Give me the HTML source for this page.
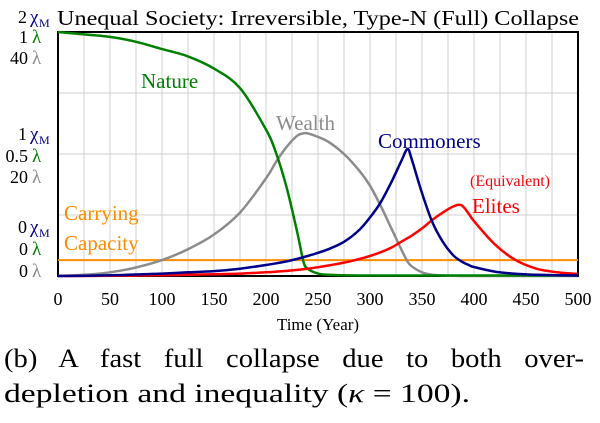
<!DOCTYPE html>
<html><head><meta charset="utf-8"><style>
body{margin:0;background:#fff;width:600px;height:423px;overflow:hidden;font-family:"Liberation Serif",serif}
</style></head><body>
<svg id="chart" width="600" height="423" style="position:absolute;left:0;top:0" font-family="Liberation Serif, serif"></svg>
<script>
const years=[0,25,50,75,100,125,150,175,200,210,220,230,236,240,250,260,275,290,300,310,320,330,336,340,350,360,370,380,388,395,400,420,440,460,480,500];
const nature=[1,0.99,0.98,0.96,0.93,0.9,0.85,0.77,0.6,0.5,0.36,0.18,0.06,0.03,0.01,0.005,0.003,0.002,0.002,0.002,0.002,0.002,0.002,0.002,0.002,0.002,0.002,0.002,0.002,0.002,0.002,0.002,0.002,0.002,0.002,0.002];
const wealth=[0,0.005,0.015,0.035,0.065,0.11,0.17,0.26,0.4,0.47,0.53,0.575,0.585,0.585,0.57,0.55,0.5,0.43,0.37,0.29,0.2,0.11,0.06,0.04,0.015,0.005,0.002,0.001,0,0,0,0,0,0,0,0];
const commoners=[0,0.001,0.003,0.006,0.01,0.015,0.02,0.03,0.045,0.052,0.06,0.07,0.077,0.082,0.095,0.11,0.14,0.19,0.24,0.3,0.38,0.47,0.52,0.48,0.34,0.22,0.14,0.085,0.06,0.045,0.037,0.018,0.009,0.005,0.003,0.002];
const elites=[0,0,0.001,0.002,0.003,0.005,0.007,0.01,0.015,0.018,0.021,0.025,0.028,0.03,0.036,0.043,0.055,0.07,0.082,0.097,0.115,0.14,0.155,0.165,0.195,0.23,0.26,0.285,0.29,0.255,0.225,0.13,0.065,0.03,0.015,0.008];
const capacity=0.065;
const xTicks=[0,50,100,150,200,250,300,350,400,450,500];
const L=58,R=578,T=32,B=276;
const X=t=>L+(t/500)*(R-L), Y=v=>B-v*(B-T);
const svg=document.getElementById('chart');const NS='http://www.w3.org/2000/svg';
function mk(tag,attrs,txt,name){const e=document.createElementNS(NS,tag);for(const k in attrs)e.setAttribute(k,attrs[k]);if(txt!=null)e.textContent=txt;


svg.appendChild(e);return e;}
for(let t=25;t<500;t+=25)mk('line',{x1:X(t),x2:X(t),y1:T,y2:B,stroke:'#d0d0d0','stroke-width':1},null,'v-gridline');
for(let i=1;i<4;i++)mk('line',{x1:L,x2:R,y1:Y(i/4),y2:Y(i/4),stroke:'#d0d0d0','stroke-width':1},null,'h-gridline');
mk('rect',{x:L,y:T,width:R-L,height:B-T,fill:'none',stroke:'#000','stroke-width':2},null,'plot-frame');
function smooth(arr){const p=arr.map((v,i)=>[X(years[i]),Y(v)]);let d='M'+p[0][0].toFixed(1)+','+p[0][1].toFixed(1);
for(let i=0;i<p.length-1;i++){const a=p[Math.max(0,i-1)],b=p[i],c=p[i+1],e=p[Math.min(p.length-1,i+2)];const k=1/6;
const c1=[b[0]+(c[0]-a[0])*k,b[1]+(c[1]-a[1])*k],c2=[c[0]-(e[0]-b[0])*k,c[1]-(e[1]-b[1])*k];
d+='C'+c1.map(n=>n.toFixed(1))+' '+c2.map(n=>n.toFixed(1))+' '+c[0].toFixed(1)+','+c[1].toFixed(1);}return d;}
function series(arr,col,name){mk('path',{d:smooth(arr),fill:'none',stroke:col,'stroke-width':2.5,'stroke-linejoin':'round'},null,name);}
mk('line',{x1:L,x2:R,y1:Y(capacity),y2:Y(capacity),stroke:'#ff8c00','stroke-width':2},null,'carrying-capacity-line');
series(wealth,'#8c8c8c','wealth-line');
series(nature,'#008000','nature-line');
series(elites,'#ff0000','elites-line');
series(commoners,'#00008b','commoners-line');
xTicks.forEach(t=>mk('text',{x:X(t),y:B+29,'font-size':18,'text-anchor':'middle'},t,'x-tick-label'));
mk('text',{x:X(250),y:B+54,'font-size':17,'text-anchor':'middle'},'Time (Year)','x-axis-title');
mk('text',{x:57,y:25,'font-size':21.5,textLength:522,lengthAdjust:'spacingAndGlyphs'},'Unequal Society: Irreversible, Type-N (Full) Collapse','chart-title');
const yl=[[23,'2','χ','#00008b',1],[43,'1','λ','#008000',0],[64,'40','λ','#8c8c8c',0],[140,'1','χ','#00008b',1],[162,'0.5','λ','#008000',0],[183,'20','λ','#8c8c8c',0],[233,'0','χ','#00008b',1],[255,'0','λ','#008000',0],[277,'0','λ','#8c8c8c',0]];
yl.forEach(r=>{mk('text',{x:r[4]?27:28,y:r[0],'font-size':18,'text-anchor':'end'},r[1],'y-tick-label');
mk('text',{x:r[4]?30:32,y:r[0],'font-size':19,fill:r[3]},r[2],'y-unit-symbol');
if(r[4])mk('text',{x:39,y:r[0]+4,'font-size':12,fill:r[3]},'M','y-unit-subscript');});
mk('text',{x:141,y:88,'font-size':21,fill:'#008000'},'Nature','nature-label');
mk('text',{x:276,y:130,'font-size':21,fill:'#8c8c8c'},'Wealth','wealth-label');
mk('text',{x:378,y:148,'font-size':21,fill:'#00008b'},'Commoners','commoners-label');
mk('text',{x:470,y:186,'font-size':16,fill:'#ff0000'},'(Equivalent)','elites-label-line1');
mk('text',{x:472,y:213,'font-size':21,fill:'#ff0000'},'Elites','elites-label');
mk('text',{x:64,y:220,'font-size':21,fill:'#ff8c00'},'Carrying','capacity-label-line1');
mk('text',{x:64,y:250,'font-size':21,fill:'#ff8c00'},'Capacity','capacity-label-line2');
mk('text',{x:4,y:367,'font-size':26,'word-spacing':'14px',textLength:580,lengthAdjust:'spacingAndGlyphs'},'(b) A fast full collapse due to both over-','caption-line1');
const c2=mk('text',{x:4,y:402,'font-size':26,textLength:466,lengthAdjust:'spacingAndGlyphs'},'depletion and inequality (','caption-line2');
const k=document.createElementNS(NS,'tspan');k.setAttribute('font-style','italic');k.textContent='κ';c2.appendChild(k);
c2.appendChild(document.createTextNode(' = 100).'));
</script>
</body></html>
